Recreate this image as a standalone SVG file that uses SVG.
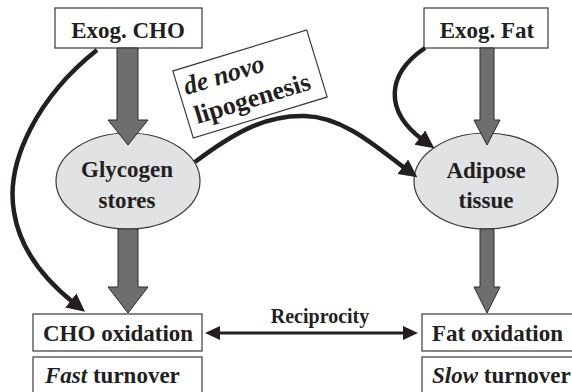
<svg xmlns="http://www.w3.org/2000/svg" width="572" height="392" viewBox="0 0 572 392">
<defs>
<style>
.box{fill:#fff;stroke:#3a3a3a;stroke-width:1.2}
.ell{fill:#e1e2e3;stroke:#3a3a3a;stroke-width:1.2}
.big{fill:#6d6e70;stroke:#2a2a2a;stroke-width:1}
.t{font-family:"Liberation Serif","Times New Roman",serif;font-weight:bold;font-size:23px;fill:#231f20}
.i{font-style:italic}
.c{fill:none;stroke:#231f20;stroke-width:4.5}
.r{fill:none;stroke:#231f20;stroke-width:3}
</style>
<marker id="ah" markerUnits="userSpaceOnUse" markerWidth="20" markerHeight="20" refX="4" refY="9" orient="auto"><path d="M0,0 L18,9 L0,18 z" fill="#231f20"/></marker>
<marker id="ar" markerUnits="userSpaceOnUse" markerWidth="18" markerHeight="16" refX="3" refY="7" orient="auto-start-reverse"><path d="M0,0 L15,7 L0,14 z" fill="#231f20"/></marker>
</defs>
<rect width="572" height="392" fill="#fff"/>

<g id="exog-cho"><rect class="box" x="55" y="8" width="147" height="40"/><text class="t" x="128" y="38" text-anchor="middle">Exog. CHO</text></g>
<g id="exog-fat"><rect class="box" x="424" y="8" width="124" height="40"/><text class="t" x="487" y="38" text-anchor="middle">Exog. Fat</text></g>
<g id="glycogen"><ellipse class="ell" cx="128" cy="181" rx="72" ry="48"/><text class="t" x="127" y="177" text-anchor="middle">Glycogen</text><text class="t" x="127" y="208" text-anchor="middle">stores</text></g>
<g id="adipose"><ellipse class="ell" cx="486" cy="181" rx="72" ry="48"/><text class="t" x="486" y="178" text-anchor="middle">Adipose</text><text class="t" x="486" y="208" text-anchor="middle">tissue</text></g>
<g id="de-novo" transform="translate(250,84) rotate(-17)"><rect class="box" x="-70" y="-35" width="140" height="70"/><text class="t i" x="-64" y="-8" style="font-size:26px">de novo</text><text class="t" x="-62" y="23" style="font-size:26px">lipogenesis</text></g>
<g id="cho-ox"><rect class="box" x="33" y="314" width="169" height="37"/><text class="t" x="43" y="341">CHO oxidation</text></g>
<g id="fast"><rect class="box" x="33" y="357" width="169" height="40"/><text class="t" x="45" y="383"><tspan class="i">Fast</tspan> turnover</text></g>
<g id="fat-ox"><rect class="box" x="422" y="314" width="160" height="37"/><text class="t" x="432" y="341">Fat oxidation</text></g>
<g id="slow"><rect class="box" x="422" y="357" width="160" height="40"/><text class="t" x="432" y="383"><tspan class="i">Slow</tspan> turnover</text></g>

<g id="connectors">
<path class="big" d="M117,48 L138,48 L138,120 L148,120 L128,145 L108,120 L117,120 Z"/>
<path class="big" d="M118,229 L138,229 L138,287 L148,287 L128,313 L108,287 L118,287 Z"/>
<path class="big" d="M480,48 L494,48 L494,120 L500,120 L487,145 L474,120 L480,120 Z"/>
<path class="big" d="M480,229 L494,229 L494,287 L500,287 L487,313 L474,287 L480,287 Z"/>
<path class="c" d="M97,50 C40,95 5,160 14,212 C20,250 45,280 74,303" marker-end="url(#ah)"/>
<path class="c" d="M195,162 C240,128 270,115 305,116 C345,117 380,150 406,169" marker-end="url(#ah)"/>
<path class="c" d="M425,48 C385,75 385,112 423,140" marker-end="url(#ah)"/>
<path class="r" d="M217,333 L406,333" marker-start="url(#ar)" marker-end="url(#ar)"/>
<text class="t" x="320" y="323" text-anchor="middle" style="font-size:20px">Reciprocity</text>
</g>
</svg>
